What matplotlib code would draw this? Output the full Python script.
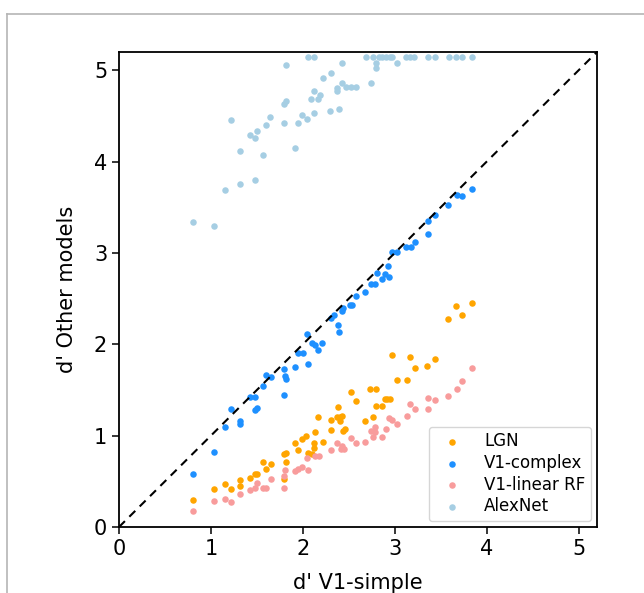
import numpy as np
import matplotlib
matplotlib.use("Agg")
import matplotlib.pyplot as plt
from matplotlib.lines import Line2D

plt.rcParams["font.family"] = "DejaVu Sans"

# d' values (x = V1-simple, y = other model)
lgn_x = [0.81, 1.03, 1.15, 1.22, 1.32, 1.32, 1.43, 1.48, 1.50, 1.57, 1.60, 1.65,
         1.79, 1.79, 1.82, 1.82, 1.91, 1.95, 1.99, 2.03, 2.06, 2.10, 2.12, 2.12,
         2.13, 2.17, 2.22, 2.31, 2.31, 2.37, 2.38, 2.40, 2.40, 2.43, 2.44, 2.46,
         2.52, 2.58, 2.68, 2.73, 2.76, 2.80, 2.80, 2.86, 2.89, 2.92, 2.95, 2.97,
         3.02, 3.13, 3.17, 3.22, 3.35, 3.44, 3.58, 3.67, 3.73, 3.84]
lgn_y = [0.30, 0.42, 0.47, 0.42, 0.52, 0.45, 0.54, 0.58, 0.58, 0.71, 0.63, 0.69,
         0.80, 0.53, 0.81, 0.71, 0.92, 0.84, 0.96, 1.00, 0.81, 0.80, 0.86, 0.92,
         1.04, 1.20, 0.93, 1.17, 1.06, 1.20, 1.31, 1.20, 1.16, 1.22, 1.05, 1.07,
         1.48, 1.38, 1.16, 1.51, 1.20, 1.51, 1.32, 1.32, 1.40, 1.40, 1.40, 1.88,
         1.61, 1.61, 1.86, 1.74, 1.76, 1.84, 2.28, 2.42, 2.32, 2.45]

cplx_x = [0.81, 1.03, 1.15, 1.22, 1.32, 1.32, 1.43, 1.48, 1.48, 1.50, 1.57, 1.60,
          1.65, 1.79, 1.79, 1.81, 1.82, 1.91, 1.95, 2.00, 2.04, 2.06, 2.10, 2.13,
          2.17, 2.21, 2.31, 2.34, 2.38, 2.39, 2.43, 2.44, 2.51, 2.53, 2.58, 2.68,
          2.74, 2.79, 2.81, 2.86, 2.89, 2.94, 2.93, 2.97, 3.02, 3.12, 3.18, 3.22,
          3.36, 3.36, 3.44, 3.58, 3.68, 3.73, 3.84]
cplx_y = [0.58, 0.82, 1.09, 1.29, 1.16, 1.13, 1.42, 1.42, 1.28, 1.30, 1.54, 1.66,
          1.64, 1.73, 1.45, 1.65, 1.62, 1.75, 1.91, 1.91, 2.11, 1.78, 2.01, 1.99,
          1.94, 2.01, 2.29, 2.32, 2.21, 2.13, 2.36, 2.40, 2.43, 2.43, 2.53, 2.57,
          2.66, 2.66, 2.78, 2.71, 2.77, 2.74, 2.86, 3.01, 3.01, 3.06, 3.06, 3.12,
          3.35, 3.21, 3.42, 3.52, 3.63, 3.62, 3.70]

lin_x = [0.81, 1.03, 1.15, 1.22, 1.32, 1.43, 1.48, 1.50, 1.57, 1.60, 1.65, 1.79,
         1.79, 1.81, 1.91, 1.95, 1.99, 2.04, 2.06, 2.13, 2.18, 2.31, 2.37, 2.41,
         2.43, 2.45, 2.52, 2.58, 2.68, 2.74, 2.76, 2.79, 2.79, 2.86, 2.90, 2.94,
         2.97, 3.02, 3.13, 3.17, 3.22, 3.36, 3.36, 3.44, 3.58, 3.68, 3.73, 3.84]
lin_y = [0.18, 0.28, 0.31, 0.27, 0.36, 0.41, 0.43, 0.48, 0.43, 0.43, 0.53, 0.43,
         0.56, 0.62, 0.61, 0.64, 0.66, 0.76, 0.62, 0.78, 0.78, 0.84, 0.92, 0.85,
         0.89, 0.85, 0.97, 0.92, 0.93, 1.05, 0.99, 1.09, 1.04, 0.98, 1.07, 1.19,
         1.17, 1.13, 1.21, 1.35, 1.29, 1.29, 1.41, 1.39, 1.43, 1.51, 1.60, 1.74]

alex_x = [0.81, 1.03, 1.15, 1.32, 1.48, 1.32, 1.22, 1.57, 1.43, 1.48, 1.50, 1.60,
          1.64, 1.91, 1.79, 1.79, 1.82, 1.82, 1.95, 1.99, 2.04, 2.12, 2.09, 2.12,
          2.17, 2.19, 2.06, 2.12, 2.22, 2.31, 2.30, 2.39, 2.37, 2.37, 2.43, 2.43,
          2.47, 2.52, 2.58, 2.74, 2.69, 2.76, 2.80, 2.80, 2.83, 2.86, 2.91, 2.95,
          2.97, 3.02, 3.12, 3.17, 3.21, 3.36, 3.44, 3.59, 3.67, 3.73, 3.84]
alex_y = [3.34, 3.29, 3.69, 3.76, 3.80, 4.12, 4.46, 4.07, 4.29, 4.26, 4.34, 4.40,
          4.49, 4.15, 4.42, 4.63, 4.66, 5.06, 4.42, 4.51, 4.47, 4.53, 4.69, 4.77,
          4.69, 4.73, 5.15, 5.15, 4.91, 4.97, 4.55, 4.58, 4.81, 4.77, 5.08, 4.86,
          4.82, 4.82, 4.82, 4.86, 5.15, 5.15, 5.08, 5.03, 5.15, 5.15, 5.15, 5.15,
          5.15, 5.08, 5.15, 5.15, 5.15, 5.15, 5.15, 5.15, 5.15, 5.15, 5.15]

series = [
    ("LGN", lgn_x, lgn_y, "#FFA500"),
    ("V1-complex", cplx_x, cplx_y, "#1E90FF"),
    ("V1-linear RF", lin_x, lin_y, "#F89C9C"),
    ("AlexNet", alex_x, alex_y, "#A6CEE3"),
]
lim = 5.2

fig = plt.figure(figsize=(6.44, 5.93), dpi=100)
ax = fig.add_axes([119 / 644, 66 / 593, 478 / 644, 475 / 593])

for name, xs, ys, col in series:
    ax.scatter(xs, ys, s=22, color=col, label=name, linewidths=0, zorder=2)
ax.plot([0, lim], [0, lim], color="black", linestyle="--", linewidth=1.5,
        dashes=(4, 3), zorder=3)

ax.set_xlim(0, lim)
ax.set_ylim(0, lim)
ax.set_xticks(range(6))
ax.set_yticks(range(6))
ax.tick_params(labelsize=15, length=5, width=1.1)
for sp in ax.spines.values():
    sp.set_linewidth(1.3)
ax.set_xlabel("d' V1-simple", fontsize=15, labelpad=10)
ax.set_ylabel("d' Other models", fontsize=15, labelpad=12)
ax.legend(loc="lower right", fontsize=12, handletextpad=0.95, handlelength=2.0,
          labelspacing=0.22, borderpad=0.35, borderaxespad=0.35,
          framealpha=0.8)

# grey frame of the cropped panel
fig.add_artist(Line2D([7 / 644, 1], [1 - 14 / 593, 1 - 14 / 593],
                      transform=fig.transFigure, color="#b5b5b5", linewidth=1.2))
fig.add_artist(Line2D([7 / 644, 7 / 644], [0, 1 - 14 / 593],
                      transform=fig.transFigure, color="#b5b5b5", linewidth=1.2))

fig.savefig("out.png", dpi=100)
